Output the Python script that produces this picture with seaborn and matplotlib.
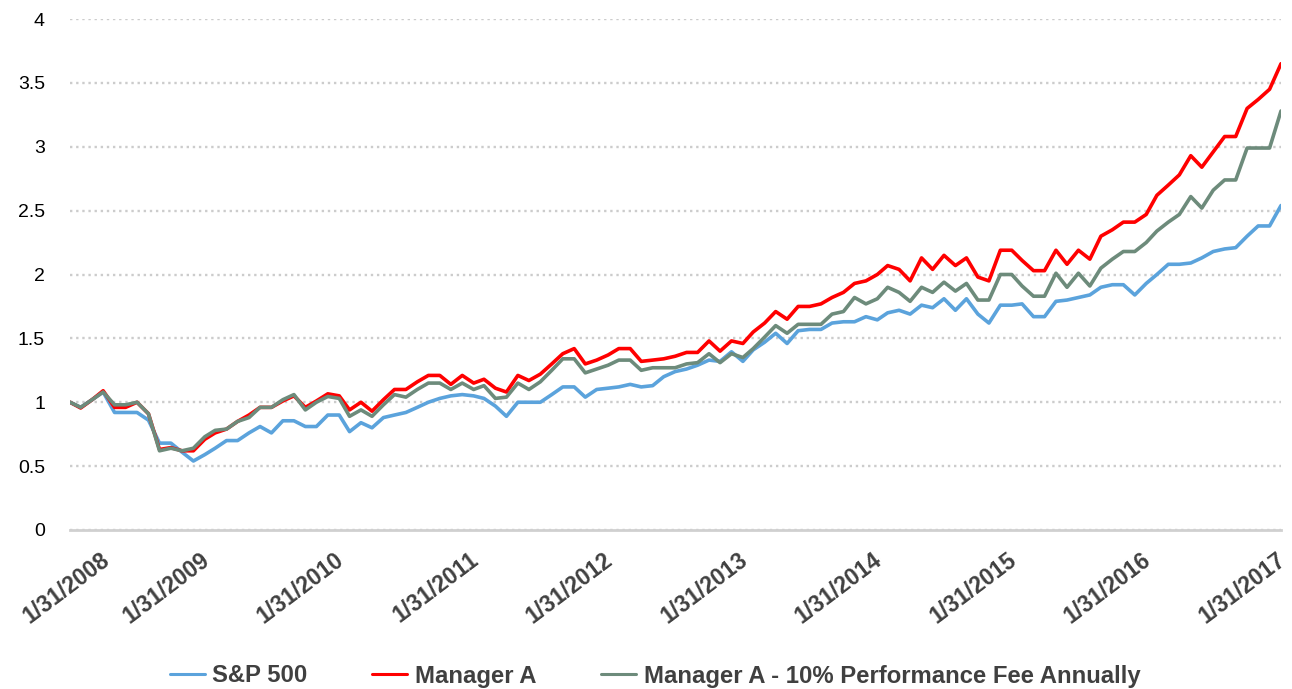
import numpy as np
import pandas as pd
import matplotlib
matplotlib.use('Agg')
import matplotlib.pyplot as plt
from matplotlib.transforms import ScaledTranslation
import seaborn as sns

# Growth of $1, month-end values (Jan 2008 - Jan 2017)
series_names = ['S&P 500', 'Manager A', 'Manager A - 10% Performance Fee Annually']

sp500 = [
    1.00, 0.96, 1.02, 1.08, 0.92, 0.92, 0.92, 0.86, 0.68, 0.68, 0.61, 0.54,
    0.59, 0.64, 0.70, 0.70, 0.76, 0.81, 0.76, 0.855, 0.855, 0.81, 0.81, 0.90,
    0.90, 0.77, 0.84, 0.80, 0.88, 0.90, 0.92, 0.96, 1.00, 1.03, 1.05, 1.06,
    1.05, 1.03, 0.97, 0.89, 1.00, 1.00, 1.00, 1.06, 1.12, 1.12, 1.04, 1.10,
    1.11, 1.12, 1.14, 1.12, 1.13, 1.20, 1.24, 1.26, 1.29, 1.33, 1.32, 1.395,
    1.32, 1.41, 1.47, 1.54, 1.46, 1.56, 1.57, 1.57, 1.62, 1.63, 1.63, 1.67,
    1.645, 1.70, 1.72, 1.69, 1.76, 1.74, 1.81, 1.72, 1.81, 1.69, 1.62, 1.76,
    1.76, 1.77, 1.67, 1.67, 1.79, 1.80, 1.82, 1.84, 1.90, 1.92, 1.92, 1.84,
    1.93, 2.00, 2.08, 2.08, 2.09, 2.13, 2.18, 2.20, 2.21, 2.30, 2.38, 2.38, 2.54,
]

manager_a = [
    1.00, 0.955, 1.02, 1.09, 0.96, 0.96, 1.00, 0.91, 0.63, 0.645, 0.62, 0.62,
    0.71, 0.76, 0.79, 0.85, 0.90, 0.96, 0.96, 1.01, 1.05, 0.96, 1.01, 1.066,
    1.05, 0.94, 1.00, 0.93, 1.02, 1.10, 1.10, 1.16, 1.21, 1.21, 1.14, 1.21,
    1.15, 1.18, 1.11, 1.08, 1.21, 1.17, 1.22, 1.30, 1.38, 1.42, 1.30, 1.33,
    1.37, 1.42, 1.42, 1.32, 1.33, 1.34, 1.36, 1.39, 1.39, 1.48, 1.40, 1.48,
    1.46, 1.55, 1.62, 1.71, 1.65, 1.75, 1.75, 1.77, 1.82, 1.86, 1.93, 1.95,
    2.00, 2.07, 2.04, 1.95, 2.13, 2.04, 2.15, 2.07, 2.13, 1.98, 1.95, 2.19,
    2.19, 2.11, 2.03, 2.03, 2.19, 2.08, 2.19, 2.12, 2.30, 2.35, 2.41, 2.41,
    2.47, 2.62, 2.70, 2.78, 2.93, 2.84, 2.96, 3.08, 3.08, 3.30, 3.37, 3.45, 3.65,
]

manager_a_fee = [
    1.00, 0.96, 1.02, 1.08, 0.98, 0.98, 1.00, 0.91, 0.62, 0.64, 0.62, 0.64,
    0.73, 0.78, 0.79, 0.85, 0.88, 0.96, 0.96, 1.02, 1.06, 0.94, 1.00, 1.045,
    1.03, 0.89, 0.94, 0.89, 0.98, 1.06, 1.04, 1.10, 1.15, 1.15, 1.10, 1.15,
    1.10, 1.13, 1.03, 1.04, 1.15, 1.10, 1.16, 1.25, 1.34, 1.34, 1.23, 1.26,
    1.29, 1.33, 1.33, 1.25, 1.27, 1.27, 1.27, 1.30, 1.31, 1.38, 1.31, 1.38,
    1.35, 1.42, 1.51, 1.60, 1.54, 1.61, 1.61, 1.61, 1.69, 1.71, 1.82, 1.77,
    1.81, 1.90, 1.86, 1.79, 1.90, 1.86, 1.94, 1.87, 1.93, 1.80, 1.80, 2.00,
    2.00, 1.91, 1.83, 1.83, 2.01, 1.90, 2.01, 1.91, 2.05, 2.12, 2.18, 2.18,
    2.25, 2.34, 2.41, 2.47, 2.61, 2.52, 2.66, 2.74, 2.74, 2.99, 2.99, 2.99, 3.28,
]

tick_labels = ['1/31/2008', '1/31/2009', '1/31/2010', '1/31/2011', '1/31/2012',
               '1/31/2013', '1/31/2014', '1/31/2015', '1/31/2016', '1/31/2017']

colors = ['#5BA3DC', '#FF0000', '#6D8B7B']

dates = pd.date_range('2008-01-31', periods=len(sp500), freq='ME')
df = pd.DataFrame({
    'date': np.tile(dates, 3),
    'value': sp500 + manager_a + manager_a_fee,
    'series': np.repeat(series_names, len(dates)),
})

sns.set_theme(style='white')
plt.rcParams['font.family'] = ['Liberation Sans', 'DejaVu Sans']

W, H = 1292, 689
fig = plt.figure(figsize=(W / 100, H / 100), dpi=100)
ax = fig.add_axes([70 / W, 1 - 530 / H, (1281 - 70) / W, (530 - 19) / H])

sns.lineplot(data=df, x='date', y='value', hue='series', hue_order=series_names,
             palette=colors, linewidth=2.6, ax=ax)

handles, labels = ax.get_legend_handles_labels()
ax.get_legend().remove()

ax.set_xlim(dates[0], dates[-1])
ax.set_ylim(0, 4)
ax.set_xlabel('')
ax.set_ylabel('')

# y axis: dotted gridlines, no ticks
yt = np.arange(0, 4.01, 0.5)
ax.set_yticks(yt)
ax.set_yticklabels([f'{v:g}' for v in yt])
ax.tick_params(axis='y', length=0, pad=18, labelsize=14, labelcolor='black')
ax.yaxis.grid(True, linestyle=(0, (1, 1.6)), linewidth=1.7, color='#CCCCCC')
ax.xaxis.grid(False)

# x axis: yearly ticks, rotated bold labels
tick_dates = pd.to_datetime(tick_labels, format='%m/%d/%Y')
ax.set_xticks(tick_dates)
ax.set_xticklabels(tick_labels, rotation=37, ha='right', va='top',
                   rotation_mode='anchor', fontsize=16.5, fontweight='bold',
                   color='#404040')
ax.tick_params(axis='x', length=7, width=2, color='#D0D0D0', pad=6)
shift = [0.30] + [-0.05] * 8 + [-0.05]
for lab, dx in zip(ax.get_xticklabels(), shift):
    lab.set_transform(lab.get_transform() + ScaledTranslation(dx, 0, fig.dpi_scale_trans))

for s in ['left', 'top', 'right']:
    ax.spines[s].set_visible(False)
ax.spines['bottom'].set_color('#D0D0D0')
ax.spines['bottom'].set_linewidth(2)

leg = fig.legend(handles, labels, loc='center', bbox_to_anchor=(655 / W, 1 - 676 / H),
                 ncol=3, frameon=False, prop={'weight': 'bold', 'size': 17.2},
                 handlelength=1.46, handletextpad=0.33, columnspacing=2.7)
for t in leg.get_texts():
    t.set_color('#404040')
for h in leg.legend_handles:
    h.set_linewidth(2.2)

fig.savefig('out.png', dpi=100)
